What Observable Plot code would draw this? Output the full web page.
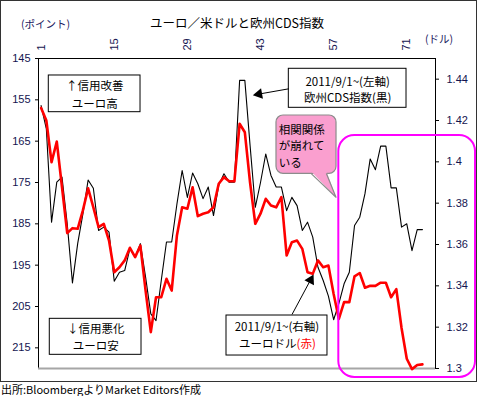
<!DOCTYPE html>
<html><head><meta charset="utf-8">
<script src="https://cdn.jsdelivr.net/npm/d3@7"></script>
<script src="https://cdn.jsdelivr.net/npm/@observablehq/plot@0.6"></script>
<style>
body{margin:0;background:#fff;font-family:"Liberation Sans","Noto Sans CJK JP",sans-serif;}
#wrap{position:relative;width:478px;height:382px;}
#border{position:absolute;left:0;top:0;width:477px;height:382px;border:1.5px solid #333;box-sizing:border-box;pointer-events:none;}
.lbl{position:absolute;white-space:nowrap;line-height:1;}
#title{left:0;width:474px;text-align:center;top:17px;font-size:12.5px;font-family:"Noto Sans CJK JP";color:#000;}
#yl{left:21px;top:19px;font-size:10.5px;font-family:"Noto Sans CJK JP";color:#202060;}
#yr{left:425px;top:34px;font-size:10.5px;font-family:"Noto Sans CJK JP";color:#202060;}
#cap{font-size:11px;font-family:"Noto Sans CJK JP";padding-left:1px;line-height:14px;}
</style></head>
<body>
<div id="wrap">
  <div id="chart"></div>
  <div class="lbl" id="title">ユーロ／米ドルと欧州CDS指数</div>
  <div class="lbl" id="yl">(ポイント)</div>
  <div class="lbl" id="yr">(ドル)</div>
  <div id="border"></div>
</div>
<div id="cap">出所:BloombergよりMarket Editors作成</div>
<script>
// day index (category) 1..74
const days = d3.range(1, 75);
// 欧州CDS指数 (left axis, points)
const cds = [156.4,162,184.6,174.9,173.7,185,199.3,189.8,182.6,174.4,
  176.4,186.6,185.8,187,198.9,196.7,196.3,191,193.1,189.8,
  197.9,206.8,208.4,198.7,189.4,189.4,180.2,172.1,178.6,172.7,
  175.3,178.9,176.1,183,175.7,172.9,174.9,174.9,150.3,150.3,
  166,181,175,168.1,173.3,176.1,176.1,181.8,178.6,180.6,
  186.6,184.6,188.2,195.5,198.7,202.5,208.2,204.3,199.5,196.7,
  185.4,183.4,177.7,169.3,171.9,166.2,166.2,176.3,176.3,185.8,
  185,191.5,186.4,186.4];
// ユーロドル (right axis, USD)
const eurusd = [1.4261,1.42,1.3998,1.4098,1.3877,1.3655,1.3679,1.3676,1.3765,1.3872,
  1.378,1.3684,1.37,1.3619,1.3466,1.349,1.3523,1.3584,1.3539,1.3595,
  1.3377,1.3176,1.3345,1.3345,1.3434,1.3377,1.3644,1.378,1.3773,1.3877,
  1.3737,1.3749,1.3756,1.378,1.3894,1.3926,1.3906,1.3906,1.4184,1.4143,
  1.39,1.37,1.3749,1.3821,1.3789,1.378,1.3829,1.3547,1.3611,1.3619,
  1.3579,1.3466,1.3458,1.3523,1.349,1.3498,1.3361,1.324,1.3321,1.3321,
  1.3446,1.3462,1.3391,1.34,1.34,1.3415,1.3415,1.3345,1.3384,1.3196,
  1.3047,1.2997,1.3017,1.302];
const xTicks = [1,15,29,43,57,71];
const leftTicks = [145,155,165,175,185,195,205,215];
const rightTicks = [1.3,1.32,1.34,1.36,1.38,1.4,1.42,1.44];

// map right-axis dollars onto the left-axis scale
const toLeft = r => 145 + (1.45 - r) * 500;
const fromLeft = v => +(1.45 - (v - 145) / 500).toFixed(2);

const rows = days.map((d, i) => ({day: d, cds: cds[i], eur: eurusd[i]}));

const boxes = [
  {x1: 2.47, x2: 20.03, y1: 149.11, y2: 157.99},
  {x1: 2.66, x2: 20.22, y1: 207.98, y2: 216.69},
  {x1: 48.42, x2: 70.95, y1: 147.49, y2: 156.93},
  {x1: 36.49, x2: 55.82, y1: 207.18, y2: 216.86}
];
const jp = "Noto Sans CJK JP";
const lblColor = "#141450";

const chart = Plot.plot({
  width: 478,
  height: 382,
  marginLeft: 38,
  marginRight: 43,
  marginTop: 58,
  marginBottom: 14,
  style: {fontFamily: "'Liberation Sans','Noto Sans CJK JP',sans-serif", fontSize: "11px", background: "transparent", overflow: "visible"},
  x: {domain: [0.5, 76.5]},
  y: {domain: [220, 145]},
  marks: [
    Plot.frame({stroke: "#000", strokeWidth: 1}),
    Plot.ruleY([220], {stroke: "#a6a6a6", strokeWidth: 2}),
    Plot.axisY(leftTicks, {anchor: "left", tickSize: 3, tickPadding: 5, fill: lblColor, fontSize: 11}),
    Plot.axisY(rightTicks.map(toLeft), {anchor: "right", tickSize: 3, tickPadding: 8, tickFormat: v => String(fromLeft(v)), fill: lblColor, fontSize: 11}),
    Plot.axisX(xTicks, {anchor: "top", tickRotate: -90, tickSize: 0, tickPadding: 8, fill: lblColor, fontSize: 11}),
    Plot.line(rows, {x: "day", y: "cds", stroke: "#000", strokeWidth: 1.1}),
    Plot.line(rows, {x: "day", y: d => toLeft(d.eur), stroke: "#ff0000", strokeWidth: 2.6}),
    // annotation boxes
    Plot.rect(boxes, {x1: "x1", x2: "x2", y1: "y1", y2: "y2", fill: "white", stroke: "#000", strokeWidth: 1}),
    Plot.text(["↑信用改善\nユーロ高"], {x: 11.25, y: 153.35, fontFamily: jp, fontSize: 11.5, lineHeight: 1.6, fill: "#000"}),
    Plot.text(["↓信用悪化\nユーロ安"], {x: 11.44, y: 212.1, fontFamily: jp, fontSize: 11.5, lineHeight: 1.5, fill: "#000"}),
    Plot.text(["2011/9/1~(左軸)\n欧州CDS指数(黒)"], {x: 59.68, y: 152.43, fontFamily: jp, fontSize: 11.5, lineHeight: 1.39, fill: "#000"}),
    Plot.text(["2011/9/1~(右軸)"], {x: 46.15, y: 210.01, fontFamily: jp, fontSize: 11.5, fill: "#000"}),
    Plot.text(["ユーロドル"], {x: 49.89, y: 214.03, textAnchor: "end", fontFamily: jp, fontSize: 11.5, fill: "#000"}),
    Plot.text(["(赤)"], {x: 49.89, y: 214.03, textAnchor: "start", fontFamily: jp, fontSize: 11.5, fill: "#ff0000"}),
    // arrows
    Plot.link([{x1: 48.42, y1: 152.33, x2: 42.23, y2: 153.71}], {x1: "x1", y1: "y1", x2: "x2", y2: "y2", stroke: "#000", strokeWidth: 1}),
    Plot.dot([{x: 42.7, y: 153.6}], {x: "x", y: "y", symbol: "triangle", r: 4, fill: "#000", stroke: "none", rotate: 260}),
    Plot.link([{x1: 49.03, y1: 206.94, x2: 52.86, y2: 197.91}], {x1: "x1", y1: "y1", x2: "x2", y2: "y2", stroke: "#000", strokeWidth: 1}),
    Plot.dot([{x: 52.6, y: 198.6}], {x: "x", y: "y", symbol: "triangle", r: 4, fill: "#000", stroke: "none", rotate: 27.6}),
    // pink callout
    Plot.rect([{x1: 46.06, x2: 57.55, y1: 158.79, y2: 172.9}], {x1: "x1", x2: "x2", y1: "y1", y2: "y2", fill: "#fa9fcf", stroke: "#8c8c8c", strokeWidth: 1.2, rx: 7}),
    Plot.line([{x: 52.76, y: 172.4}, {x: 57.45, y: 178.56}, {x: 55.63, y: 172.4}], {x: "x", y: "y", fill: "#fa9fcf", stroke: "none"}),
    Plot.line([{x: 52.76, y: 172.9}, {x: 57.45, y: 178.56}, {x: 55.63, y: 172.9}], {x: "x", y: "y", stroke: "#8c8c8c", strokeWidth: 1.2}),
    Plot.text(["相関関係\nが崩れて\nいる"], {x: 46.5, y: 165.9, textAnchor: "start", fontFamily: jp, fontSize: 11.5, lineHeight: 1.45, fill: "#000"}),
    // magenta highlight
    Plot.rect([{x1: 57.99, x2: 84.16, y1: 163.63, y2: 222.18}], {x1: "x1", x2: "x2", y1: "y1", y2: "y2", fill: "none", stroke: "#ff00ff", strokeWidth: 2, rx: 16})
  ]
});
document.getElementById("chart").appendChild(chart);
</script>
</body></html>
